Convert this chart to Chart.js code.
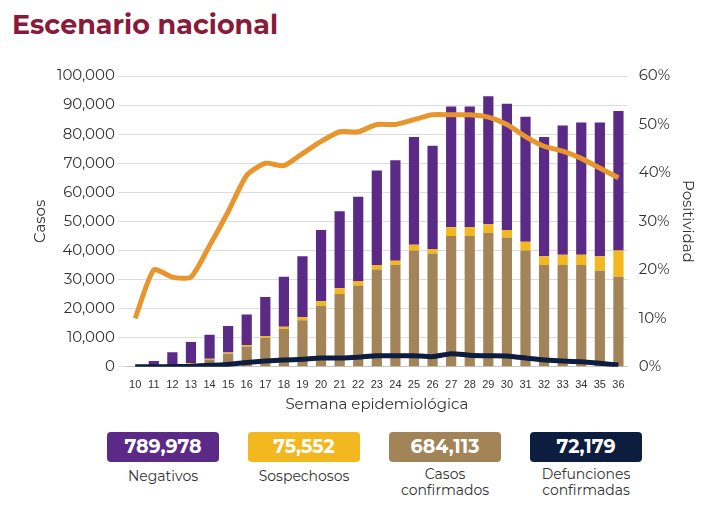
<!DOCTYPE html><html><head><meta charset="utf-8">
<script src="https://cdn.jsdelivr.net/npm/chart.js@4"></script>
<style>
body{margin:0;width:714px;height:505px;background:#fff;font-family:Montserrat,"Noto Sans",sans-serif;position:relative;overflow:hidden}
h1{position:absolute;left:12px;top:8px;margin:0;font-size:27px;color:#8a1a3a;font-weight:700}
#wrap{position:absolute;left:10px;top:64px;width:690px;height:350px}
.box{position:absolute;top:432px;width:112px;height:30px;border-radius:4px;color:#fff;font-weight:700;font-size:19px;text-align:center;line-height:30px}
.lab{position:absolute;top:468px;width:150px;text-align:center;font-size:14px;color:#333;line-height:16px}
</style></head><body>
<h1>Escenario nacional</h1>
<div id="wrap"><canvas id="c"></canvas></div>
<div class="box" style="left:107px;background:#5b2a86">789,978</div>
<div class="box" style="left:248px;background:#f3b81f">75,552</div>
<div class="box" style="left:389px;background:#a38458">684,113</div>
<div class="box" style="left:530px;background:#0d1d3f">72,179</div>
<div class="lab" style="left:88px">Negativos</div>
<div class="lab" style="left:229px">Sospechosos</div>
<div class="lab" style="left:370px;top:466px">Casos<br>confirmados</div>
<div class="lab" style="left:511px;top:466px">Defunciones<br>confirmadas</div>
<script>
const weeks=[10,11,12,13,14,15,16,17,18,19,20,21,22,23,24,25,26,27,28,29,30,31,32,33,34,35,36];
const totals=[0,2000,5000,8500,11000,14000,18000,24000,31000,38000,47000,53500,58500,67500,71000,79000,76000,89500,89500,93000,90500,86000,79000,83000,84000,84000,88000];
const confirmados=[0,200,500,1000,2500,4500,7000,10000,13000,16000,21000,25000,28000,33500,35000,40000,39000,45000,45000,46000,44500,40000,35000,35000,35000,33000,31000];
const sospechosos=[0,100,200,300,300,400,500,600,800,1000,1500,2000,1500,1500,1500,2000,1500,3000,3000,3000,2500,3000,3000,3500,3500,5000,9000];
const negativos=totals.map((t,i)=>t-confirmados[i]-sospechosos[i]);
const defunciones=[0,0,100,200,500,800,1500,2000,2300,2600,3000,3000,3300,3800,3800,3800,3500,4500,4000,3800,3700,3000,2300,2000,1700,1200,600];
const positividad=[10,20,18.5,18.5,25,32,39.5,42,41.5,44,46.5,48.5,48.5,50,50,51,52,52,52,51.5,50,47.5,45.5,44.5,43,41,39];
const f={family:'Montserrat,"Noto Sans",sans-serif',size:15};
new Chart(document.getElementById('c'),{data:{labels:weeks,datasets:[
{type:'line',data:positividad,borderColor:'#e8952e',borderWidth:5,pointRadius:0,yAxisID:'y2',tension:0.2,order:0},
{type:'line',data:defunciones,borderColor:'#0d1d3f',borderWidth:5,pointRadius:0,yAxisID:'y',tension:0.2,order:1},
{type:'bar',data:confirmados,backgroundColor:'#a38458',stack:'s',barPercentage:0.55,categoryPercentage:1,order:2},
{type:'bar',data:sospechosos,backgroundColor:'#f3b81f',stack:'s',barPercentage:0.55,categoryPercentage:1,order:2},
{type:'bar',data:negativos,backgroundColor:'#5b2a86',stack:'s',barPercentage:0.55,categoryPercentage:1,order:2}
]},options:{responsive:true,maintainAspectRatio:false,animation:false,layout:{padding:{left:18,top:0}},
plugins:{legend:{display:false},tooltip:{enabled:false}},
scales:{x:{stacked:true,grid:{display:false},ticks:{color:'#333',font:{size:11},maxRotation:0,autoSkip:false,padding:4},title:{display:true,text:'Semana epidemiológica',color:'#333',font:f,padding:0}},
y:{stacked:true,min:0,max:100000,ticks:{stepSize:10000,color:'#333',font:f,callback:v=>v.toLocaleString('en-US')},grid:{color:'#ddd'},border:{display:false},title:{display:true,text:'Casos',color:'#333',font:f}},
y2:{position:'right',min:0,max:60,ticks:{stepSize:10,color:'#333',font:f,callback:v=>v+'%'},grid:{display:false},border:{display:false},title:{display:true,text:'Positividad',color:'#333',font:f}}}}});
</script></body></html>
